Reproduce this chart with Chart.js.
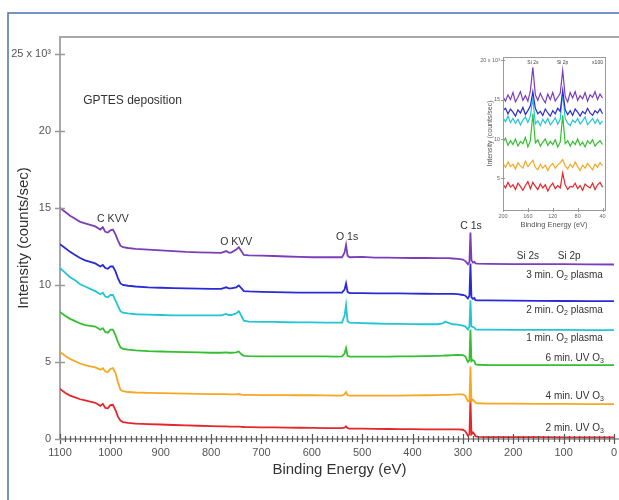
<!DOCTYPE html>
<html><head><meta charset="utf-8">
<script src="https://cdn.jsdelivr.net/npm/chart.js@4.4.1/dist/chart.umd.min.js"></script>
<style>
html,body{margin:0;padding:0;background:#fff;width:619px;height:500px;overflow:hidden}
#wrap{position:relative;width:619px;height:500px}
#main{position:absolute;left:0;top:0}
#inset{position:absolute;left:470px;top:44px}
</style></head><body>
<div id="wrap"><canvas id="main" width="619" height="500"></canvas><canvas id="inset" width="148" height="192"></canvas></div>
<script>
// ---------- main survey spectra (binding energy in eV, intensity in 10^3 counts/sec) ----------
const energy = [1100,1090,1080,1070,1060,1050,1040,1030,1020,1015,1010,1005,1000,995,990,985,980,975,965,950,925,900,875,850,825,800,780,770,765,760,750,745,740,735,725,700,675,650,625,600,575,550,540,535,532,529,525,500,475,450,425,400,375,350,340,335,330,320,310,300,295,290,287,285,283,280,277,275,270,250,200,150,100,50,0];

const o2plasma3min = [15.0,14.75,14.5,14.3,14.1,14.0,13.9,13.8,13.6,13.75,13.45,13.4,13.55,13.6,13.3,12.9,12.55,12.45,12.4,12.35,12.3,12.25,12.2,12.15,12.12,12.1,12.08,12.2,12.1,12.1,12.3,12.45,12.2,11.95,11.92,11.9,11.88,11.85,11.83,11.8,11.8,11.8,11.8,12.1,12.6,11.9,11.8,11.82,11.78,11.77,11.76,11.75,11.75,11.74,11.74,11.74,11.74,11.72,11.7,11.65,11.55,11.35,11.5,13.4,11.6,11.45,11.5,11.4,11.38,11.37,11.36,11.35,11.35,11.34,11.33];
const o2plasma2min = [12.65,12.4,12.15,11.95,11.75,11.6,11.5,11.4,11.2,11.3,11.1,11.05,11.2,11.2,10.9,10.45,10.1,10.0,9.95,9.9,9.85,9.82,9.8,9.78,9.76,9.75,9.75,9.85,9.78,9.78,9.85,9.97,9.8,9.6,9.58,9.55,9.53,9.52,9.5,9.5,9.5,9.5,9.5,9.7,10.1,9.55,9.48,9.47,9.46,9.45,9.45,9.44,9.43,9.42,9.42,9.42,9.42,9.42,9.4,9.35,9.3,9.12,9.3,11.4,9.2,9.1,9.15,9.02,9.0,9.0,8.98,8.97,8.96,8.95,8.95];
const o2plasma1min = [11.1,10.8,10.5,10.3,10.05,9.9,9.75,9.6,9.4,9.5,9.25,9.2,9.35,9.35,9.0,8.65,8.3,8.2,8.15,8.1,8.07,8.05,8.03,8.02,8.02,8.02,8.02,8.12,8.05,8.05,8.15,8.3,8.0,7.68,7.62,7.6,7.6,7.58,7.57,7.57,7.56,7.55,7.56,8.0,8.7,7.65,7.55,7.52,7.5,7.48,7.47,7.46,7.45,7.45,7.5,7.62,7.55,7.45,7.42,7.36,7.3,7.12,7.3,9.0,7.3,7.28,7.22,7.12,7.1,7.1,7.09,7.08,7.08,7.07,7.07];
const uvo3_6min = [8.25,8.0,7.8,7.65,7.5,7.4,7.35,7.3,7.1,7.2,6.95,6.9,7.1,7.1,6.75,6.3,5.95,5.85,5.8,5.75,5.7,5.68,5.66,5.64,5.62,5.6,5.6,5.62,5.6,5.6,5.62,5.68,5.5,5.4,5.38,5.37,5.37,5.36,5.36,5.36,5.36,5.35,5.36,5.55,5.9,5.4,5.35,5.35,5.35,5.35,5.36,5.37,5.38,5.4,5.41,5.42,5.42,5.44,5.46,5.45,5.35,5.0,5.1,7.1,5.05,5.12,5.05,4.85,4.82,4.8,4.8,4.8,4.8,4.8,4.8];
const uvo3_4min = [5.65,5.4,5.2,5.05,4.9,4.8,4.72,4.65,4.5,4.6,4.38,4.35,4.55,4.6,4.3,3.7,3.2,3.1,3.05,3.02,3.0,2.98,2.96,2.95,2.93,2.92,2.91,2.91,2.9,2.9,2.9,2.92,2.88,2.86,2.86,2.85,2.85,2.85,2.84,2.84,2.83,2.82,2.82,2.9,3.05,2.85,2.82,2.82,2.81,2.81,2.82,2.83,2.84,2.85,2.86,2.86,2.87,2.88,2.9,2.9,2.8,2.45,2.5,4.7,2.45,2.55,2.45,2.35,2.32,2.3,2.3,2.28,2.28,2.27,2.27];
const uvo3_2min = [3.25,3.0,2.82,2.7,2.58,2.5,2.42,2.35,2.15,2.28,2.02,2.0,2.2,2.22,1.9,1.45,1.2,1.1,1.05,1.0,0.97,0.94,0.91,0.88,0.86,0.84,0.82,0.82,0.81,0.8,0.8,0.8,0.79,0.78,0.77,0.76,0.75,0.74,0.73,0.72,0.71,0.7,0.7,0.74,0.82,0.7,0.68,0.67,0.66,0.65,0.64,0.64,0.63,0.63,0.63,0.63,0.62,0.62,0.62,0.6,0.5,0.22,0.3,2.6,0.3,0.42,0.3,0.18,0.14,0.12,0.12,0.12,0.11,0.11,0.11];

const seriesLabels = ['3 min. O_2 plasma','2 min. O_2 plasma','1 min. O_2 plasma','6 min. UV O_3','4 min. UV O_3','2 min. UV O_3'];
const xTickValues = [1100,1000,900,800,700,600,500,400,300,200,100,0];
const yTickValues = [0,5,10,15,20,25];

// ---------- inset: Si region x100 ----------
const insetEnergy = [200,196,192,188,184,180,176,172,168,164,160,156,152,148,144,140,136,132,128,124,120,116,112,108,104,100,96,92,88,84,80,76,72,68,64,60,56,52,48,44,40];
const insetO2plasma3min = [15.4,14.8,15.6,15.0,15.9,14.7,15.3,16.0,14.9,15.5,14.8,16.1,19.1,15.6,14.9,15.8,15.1,14.6,15.7,15.0,15.9,14.8,15.3,15.8,18.7,15.4,14.7,15.9,15.2,16.0,14.9,15.5,15.1,15.9,14.8,15.6,15.3,16.0,15.0,15.7,15.2];
const insetO2plasma2min = [13.6,13.9,13.2,13.8,13.4,12.9,13.7,13.3,14.0,13.1,13.6,14.2,16.0,13.9,13.2,13.5,13.0,13.8,13.3,12.9,13.6,13.2,13.9,13.5,16.2,13.7,13.1,13.6,13.0,13.8,13.4,12.9,13.5,13.2,13.9,13.3,13.0,13.6,13.3,13.8,13.2];
const insetO2plasma1min = [12.7,12.2,12.9,12.1,12.6,12.0,12.5,11.8,12.4,12.8,12.1,12.9,15.2,11.9,12.3,11.7,12.5,12.0,12.6,11.8,12.2,12.7,11.9,12.5,15.8,12.6,12.0,11.7,12.4,12.1,12.6,11.9,12.3,12.8,11.8,12.2,12.6,12.0,12.5,11.9,12.3];
const insetUvo3_6min = [9.6,10.1,9.2,9.8,9.3,10.0,9.1,9.7,9.4,10.2,9.0,9.8,13.2,9.5,9.9,9.1,9.6,10.0,9.2,9.7,9.3,9.9,9.0,9.6,13.0,9.4,9.8,9.1,9.7,9.3,10.0,9.2,9.6,9.0,9.8,9.4,9.9,9.1,9.5,9.8,9.3];
const insetUvo3_4min = [6.9,6.4,7.1,6.5,6.8,6.2,7.0,6.6,6.3,7.2,6.5,6.9,7.3,6.4,6.1,6.8,6.3,6.7,6.0,6.6,6.9,6.3,6.7,7.0,7.4,6.6,6.2,6.8,6.4,7.1,6.5,6.0,6.7,6.3,6.9,6.5,6.1,6.8,6.4,7.0,6.6];
const insetUvo3_2min = [4.3,3.8,4.5,3.9,4.2,3.6,4.4,4.0,3.5,4.1,4.6,3.7,4.5,4.0,3.6,4.3,3.8,4.2,3.4,4.0,4.4,3.7,4.1,3.8,5.7,4.2,3.6,4.0,3.9,4.4,3.7,4.1,3.5,4.3,4.0,3.8,4.4,3.6,4.2,4.5,3.9];
const insetXTickValues = [200,160,120,80,40];
const insetYTickValues = [5,10,15,20];

// ---------- styling ----------
const colors = ['#7b3db8','#2a2ad6','#22c6d3','#34bf30','#f6a823','#e6262b'];
const FONT = "'Liberation Sans', Arial, Helvetica, sans-serif";
Chart.defaults.font.family = FONT;

const mainSeries = [o2plasma3min,o2plasma2min,o2plasma1min,uvo3_6min,uvo3_4min,uvo3_2min];
const insetSeries = [insetO2plasma3min,insetO2plasma2min,insetO2plasma1min,insetUvo3_6min,insetUvo3_4min,insetUvo3_2min];

function drawRich(ctx, text, x, y, size, align){
  const parts = [];
  const re = /_(\d)/g; let last = 0, m;
  while ((m = re.exec(text))){ parts.push({t:text.slice(last,m.index)}); parts.push({t:m[1],sub:true}); last = re.lastIndex; }
  parts.push({t:text.slice(last)});
  let total = 0;
  parts.forEach(p=>{ ctx.font = (p.sub? size*0.7 : size)+'px '+FONT; p.w = ctx.measureText(p.t).width; total += p.w; });
  let cx = align==='right' ? x-total : align==='center' ? x-total/2 : x;
  ctx.textAlign='left'; ctx.textBaseline='middle';
  parts.forEach(p=>{ ctx.font = (p.sub? size*0.7 : size)+'px '+FONT; ctx.fillText(p.t, cx, p.sub? y+size*0.3 : y); cx += p.w; });
}

// annotations in data coordinates (eV, 10^3 counts/sec)
const mainNotes = [
  {t:'GPTES deposition', x:1054, y:21.95, size:12, align:'left'},
  {t:'C KVV', x:995, y:14.29, size:10.5, align:'center'},
  {t:'O KVV', x:750, y:12.79, size:10.5, align:'center'},
  {t:'O 1s', x:530, y:13.12, size:10.5, align:'center'},
  {t:'C 1s', x:284, y:13.83, size:10.5, align:'center'},
  {t:'Si 2s', x:171, y:11.88, size:10, align:'center'},
  {t:'Si 2p', x:89, y:11.88, size:10, align:'center'},
  {t:seriesLabels[0], x:22, y:10.65, size:10, align:'right'},
  {t:seriesLabels[1], x:22, y:8.38, size:10, align:'right'},
  {t:seriesLabels[2], x:22, y:6.56, size:10, align:'right'},
  {t:seriesLabels[3], x:20, y:5.26, size:10, align:'right'},
  {t:seriesLabels[4], x:20, y:2.79, size:10, align:'right'},
  {t:seriesLabels[5], x:20, y:0.71, size:10, align:'right'}
];

const mainPlugin = {
  id:'mainDeco',
  beforeDraw(chart){
    const ctx = chart.ctx; ctx.save();
    ctx.strokeStyle = '#4a70b0'; ctx.lineWidth = 1.5;
    ctx.beginPath(); ctx.moveTo(8,500); ctx.lineTo(8,13); ctx.lineTo(619,13); ctx.stroke();
    const a = chart.chartArea;
    ctx.strokeStyle = '#a8a8a8'; ctx.lineWidth = 2;
    ctx.beginPath(); ctx.moveTo(a.left, a.bottom); ctx.lineTo(a.left, a.top); ctx.lineTo(a.right, a.top); ctx.stroke();
    ctx.restore();
  },
  afterDatasetsDraw(chart){
    const ctx = chart.ctx, a = chart.chartArea, xs = chart.scales.x, ys = chart.scales.y;
    ctx.save();
    ctx.strokeStyle = '#555'; ctx.lineWidth = 1.2;
    ctx.beginPath(); ctx.moveTo(a.left, a.bottom); ctx.lineTo(a.right, a.bottom); ctx.stroke();
    ctx.beginPath();
    for (let e = 0; e <= 1100; e += 10){
      const px = Math.round(xs.getPixelForValue(e)) + 0.5;
      const h = (e % 100 === 0) ? 5 : 3;
      ctx.moveTo(px, a.bottom - h); ctx.lineTo(px, a.bottom + h);
    }
    ctx.stroke();
    ctx.strokeStyle = '#999'; ctx.lineWidth = 1.3; ctx.beginPath();
    yTickValues.forEach(v=>{ const py = Math.round(ys.getPixelForValue(v)) + 0.5; ctx.moveTo(a.left-5, py); ctx.lineTo(a.left+5, py); });
    ctx.stroke();
    ctx.fillStyle = '#333';
    mainNotes.forEach(n=> drawRich(ctx, n.t, xs.getPixelForValue(n.x), ys.getPixelForValue(n.y), n.size, n.align));
    ctx.restore();
  }
};

new Chart(document.getElementById('main'), {
  type:'line',
  data:{ datasets: mainSeries.map((vals,i)=>({
    label: seriesLabels[i].replace('_',''),
    data: energy.map((e,j)=>({x:e, y:vals[j]})),
    borderColor: colors[i], borderWidth: 1.8, pointRadius: 0, fill:false, tension:0
  }))},
  options:{
    responsive:false, animation:false, devicePixelRatio:1,
    layout:{ padding:{top:37,left:0,right:0,bottom:0}, autoPadding:false },
    plugins:{ legend:{display:false}, tooltip:{enabled:false} },
    scales:{
      x:{ type:'linear', reverse:true, min:-10, max:1100,
        afterBuildTicks: s=>{ s.ticks = xTickValues.map(v=>({value:v})); },
        afterFit: s=>{ s.height = 61; s.paddingLeft = 0; s.paddingRight = 0; },
        grid:{display:false, drawTicks:false}, border:{display:false},
        ticks:{ padding:7, color:'#555', font:{size:11}, maxRotation:0, autoSkip:false, callback: v=>String(v) },
        title:{ display:true, text:'Binding Energy (eV)', color:'#333', font:{size:15}, padding:{top:0,bottom:21} }
      },
      y:{ type:'linear', min:0, max:26.1,
        afterBuildTicks: s=>{ s.ticks = yTickValues.map(v=>({value:v})); },
        afterFit: s=>{ s.width = 60; s.paddingTop = 0; s.paddingBottom = 0; },
        grid:{display:false, drawTicks:false}, border:{display:false},
        ticks:{ padding:9, color:'#555', font:{size:11}, autoSkip:false, callback: v=> v===25 ? '25 x 10\u00B3' : String(v) },
        title:{ display:true, text:'Intensity (counts/sec)', color:'#333', font:{size:15}, padding:{top:15,bottom:0} }
      }
    }
  },
  plugins:[mainPlugin]
});

// ---------- inset chart ----------
const insetNotes = [
  {t:'Si 2s', x:152, y:19.7, size:5, align:'center'},
  {t:'Si 2p', x:104, y:19.7, size:5, align:'center'},
  {t:'x100', x:48, y:19.7, size:5, align:'center'}
];
const insetPlugin = {
  id:'insetDeco',
  afterDatasetsDraw(chart){
    const ctx = chart.ctx, a = chart.chartArea, xs = chart.scales.x, ys = chart.scales.y;
    ctx.save();
    ctx.strokeStyle = '#9a9a9a'; ctx.lineWidth = 1;
    ctx.strokeRect(a.left+0.5, a.top+0.5, a.right-a.left, a.bottom-a.top);
    ctx.beginPath();
    insetXTickValues.forEach(v=>{ const px = Math.round(xs.getPixelForValue(v))+0.5; ctx.moveTo(px, a.bottom-2); ctx.lineTo(px, a.bottom+2); });
    insetYTickValues.forEach(v=>{ const py = Math.round(ys.getPixelForValue(v))+0.5; ctx.moveTo(a.left-2, py); ctx.lineTo(a.left+2, py); });
    ctx.stroke();
    ctx.fillStyle = '#444';
    insetNotes.forEach(n=> drawRich(ctx, n.t, xs.getPixelForValue(n.x), ys.getPixelForValue(n.y), n.size, n.align));
    ctx.restore();
  }
};
new Chart(document.getElementById('inset'), {
  type:'line',
  data:{ datasets: insetSeries.map((vals,i)=>({
    label: seriesLabels[i].replace('_',''),
    data: insetEnergy.map((e,j)=>({x:e, y:vals[j]})),
    borderColor: colors[i], borderWidth: 1.2, pointRadius: 0, fill:false, tension:0
  }))},
  options:{
    responsive:false, animation:false, devicePixelRatio:1,
    layout:{ padding:{top:13,left:0,right:13,bottom:0}, autoPadding:false },
    plugins:{ legend:{display:false}, tooltip:{enabled:false} },
    scales:{
      x:{ type:'linear', reverse:true, min:36, max:200,
        afterBuildTicks: s=>{ s.ticks = insetXTickValues.map(v=>({value:v})); },
        afterFit: s=>{ s.height = 26; s.paddingLeft = 0; s.paddingRight = 0; },
        grid:{display:false, drawTicks:false}, border:{display:false},
        ticks:{ padding:3, color:'#666', font:{size:5.5}, maxRotation:0, autoSkip:false, callback: v=>String(v) },
        title:{ display:true, text:'Binding Energy (eV)', color:'#555', font:{size:7.5}, padding:{top:0,bottom:7} }
      },
      y:{ type:'linear', min:1, max:20.4,
        afterBuildTicks: s=>{ s.ticks = insetYTickValues.map(v=>({value:v})); },
        afterFit: s=>{ s.width = 33; s.paddingTop = 0; s.paddingBottom = 0; },
        grid:{display:false, drawTicks:false}, border:{display:false},
        ticks:{ padding:3, color:'#666', font:{size:5.5}, autoSkip:false, callback: v=> v===20 ? '20 x 10\u00B3' : String(v) },
        title:{ display:true, text:'Intensity (counts/sec)', color:'#555', font:{size:7}, padding:{top:16,bottom:0} }
      }
    }
  },
  plugins:[insetPlugin]
});
</script>
</body></html>
